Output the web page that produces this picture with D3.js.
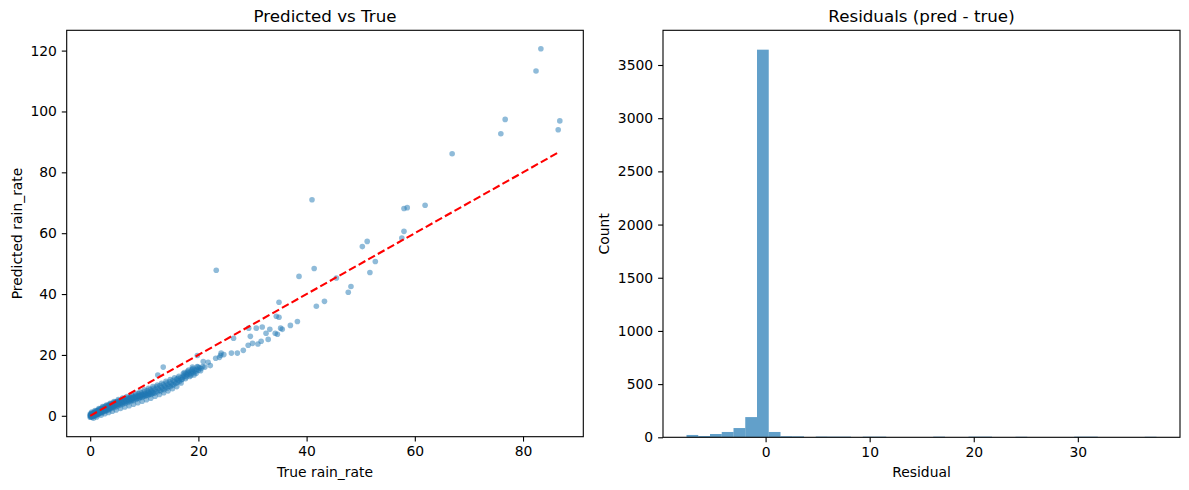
<!DOCTYPE html>
<html>
<head>
<meta charset="utf-8">
<script src="https://cdn.jsdelivr.net/npm/d3@7"></script>
<style>
  body { margin: 0; background: #fff; }
  svg { font-family: "DejaVu Sans", sans-serif; }
</style>
</head>
<body>
<svg id="chart" width="1189" height="490"></svg>
<script>
// scatter values: [true, predicted]
const bandPoints = [
  [0.0,0.0],[0.0,0.6],[0.0,-0.5],[0.1,0.3],[0.15,-0.2],[0.2,0.8],[0.3,0.1],[0.35,-0.4],[0.4,0.6],[0.5,0.2],
  [0.55,1.0],[0.6,-0.1],[0.7,0.7],[0.8,0.3],[0.85,1.3],[0.9,0.0],[1.0,0.9],[1.1,0.5],[1.15,1.6],[1.2,0.2],
  [1.3,1.1],[1.4,0.7],[1.45,1.9],[1.5,0.5],[1.6,1.4],[1.7,1.0],[1.75,2.2],[1.8,0.8],[1.9,1.7],[2.0,1.2],
  [2.05,2.5],[2.15,1.0],[2.25,2.0],[2.35,1.5],[2.4,2.8],[2.5,1.3],[2.6,2.3],[2.7,1.8],[2.75,3.1],[2.85,1.6],
  [2.95,2.6],[3.05,2.1],[3.1,3.4],[3.2,1.8],[3.3,2.9],[3.4,2.4],[3.45,3.6],[3.55,2.1],[3.65,3.1],[3.75,2.7],
  [3.8,3.9],[3.9,2.4],[4.0,3.4],[4.1,3.0],[4.2,4.2],[4.3,2.7],[4.4,3.7],[4.5,3.2],[4.6,4.5],[4.7,2.9],
  [4.8,3.9],[4.9,3.5],[5.0,4.8],[5.1,3.2],[5.2,4.2],[5.35,3.8],[5.45,5.0],[5.55,3.5],[5.7,4.5],[5.8,4.1],
  [5.9,5.3],[6.0,3.8],[6.15,4.8],[6.3,4.4],[6.4,5.6],[6.5,4.1],[6.65,5.1],[6.8,4.7],[6.9,5.9],[7.0,4.4],
  [7.15,5.4],[7.3,5.0],[7.4,6.1],[7.5,4.8],[7.65,5.8],[7.8,5.3],[7.9,6.4],[8.0,5.0],[8.15,6.1],[8.3,5.6],
  [8.4,6.8],[8.55,5.4],[8.7,6.4],[8.85,5.9],[8.95,7.2],[9.05,5.7],[9.2,6.7],[9.35,6.2],[9.45,7.5],[9.6,6.0],
  [9.75,7.0],[9.9,6.6],[10.0,7.9],[10.15,6.4],[10.3,7.4],[10.45,6.9],[10.55,8.3],[10.7,6.7],[10.85,7.8],[11.0,7.3],
  [11.1,8.6],[11.25,7.0],[11.4,8.2],[11.55,7.6],[11.7,9.0],[11.85,7.4],[12.0,8.6],[12.15,8.0],[12.3,9.5],[12.45,7.8],
  [12.6,9.0],[12.75,8.4],[12.9,9.9],[13.05,8.2],[13.2,9.4],[13.35,8.8],[13.5,10.3],[13.65,8.6],[13.8,9.8],[13.95,9.3],
  [14.1,10.8],[14.25,9.1],[14.4,10.3],[14.55,9.7],[14.7,11.2],[14.85,9.6],[15.0,10.7],[15.15,10.1],[15.3,11.7],[15.45,10.2],
  [15.6,11.2],[15.8,10.7],[15.95,12.0],[16.1,10.9],[16.3,11.6],[16.5,11.3],[16.7,12.5],[16.9,11.9],[17.1,12.7],[17.3,13.3],
  [17.5,13.0],[17.7,13.9],[17.9,13.5],[18.1,14.2],[18.3,13.7],[18.5,14.4],[18.7,13.9],[18.9,14.6],[19.1,14.2],[19.3,15.0],
  [19.5,14.6],[19.7,15.3],[20.0,15.0],[20.2,15.8],[20.5,15.5],[20.8,16.2],[21.2,16.0]
];

// outer edges of the dense band (upper and lower rims)
const bandEdgePoints = [
  [0.3,1.2],[0.6,-0.8],[0.9,1.7],[1.2,-0.4],[1.6,2.4],[2.0,0.2],[2.3,3.0],[2.7,0.7],[3.0,3.5],[3.4,1.1],
  [3.7,4.1],[4.1,1.5],[4.4,4.7],[4.8,1.9],[5.2,5.3],[5.6,2.4],[6.0,5.8],[6.4,2.9],[6.8,6.3],[7.2,3.3],
  [7.6,6.8],[8.0,3.8],[8.4,7.4],[8.8,4.3],[9.2,7.9],[9.6,4.8],[10.0,8.5],[10.4,5.3],[10.8,9.0],[11.2,5.8],
  [11.6,9.6],[12.0,6.4],[12.4,10.1],[12.8,7.0],[13.2,10.7],[13.6,7.6],[14.0,11.3],[14.4,8.2],[14.8,11.9],[15.2,8.9],
  [15.6,12.5],[16.0,9.6],[16.4,13.0],[16.8,10.8],[17.2,13.8],[17.6,12.2],[18.0,14.6],[18.4,12.9],[18.8,15.2],[19.2,13.4],
  [16.2,12.3],[17.0,12.0],[17.4,14.2],[17.8,12.8],[18.2,15.0],[18.6,13.2],[19.0,15.5],[19.6,14.0],[19.9,16.0],[20.4,14.8]
];

// the darkest part of the band, close to the origin
const bandCorePoints = [
  [0.05,0.2],[0.1,-0.3],[0.2,0.4],[0.25,0.0],[0.4,0.3],[0.45,-0.2],[0.6,0.5],[0.65,0.1],[0.75,0.9],[0.95,0.4],
  [1.05,1.2],[1.25,0.7],[1.35,1.5],[1.55,0.9],[1.65,1.8],[1.85,1.2],[1.95,2.0],[2.2,1.4],[2.3,2.3],[2.55,1.7],
  [2.65,2.6],[2.9,2.0],[3.0,2.9],[3.25,2.3],[3.35,3.2],[3.6,2.6],[3.7,3.5],[3.95,2.9],[4.05,3.8],[4.3,3.2],
  [4.45,4.1],[4.65,3.5],[4.85,4.4],[5.05,3.8],[5.25,4.6],[5.5,4.1],[5.65,4.9],[5.9,4.4],[6.1,5.1],[6.35,4.6],
  [6.55,5.4],[6.75,4.9],[7.0,5.6],[7.25,5.1],[7.45,5.9],[7.7,5.4],[7.95,6.1],[8.2,5.7],[8.45,6.4],[8.7,6.0],
  [8.95,6.6],[9.25,6.3],[9.5,6.9],[9.8,6.5],[10.1,7.1],[10.4,6.8],[10.7,7.4],[11.0,7.1],[11.3,7.8],[11.6,7.5]
];

const sparsePoints = [
  [12.5,13.4],[13.5,16.0],[18.9,16.0],[19.8,16.2],[19.8,19.8],[20.9,17.8],[21.8,17.6],[22.2,16.5],[23.2,18.9],[23.9,19.2],
  [24.1,19.9],[24.7,20.1],[24.2,20.6],[26.1,20.6],[27.2,20.6],[28.3,21.5],[29.2,23.2],[30.0,23.8],[31.0,23.6],[31.6,24.5],
  [32.9,25.1],[26.5,25.5],[29.6,26.1],[32.5,27.1],[34.2,27.1],[34.6,26.8],[29.3,28.8],[30.7,28.8],[31.8,29.2],[33.2,28.4],
  [35.2,28.8],[35.5,28.4],[37.0,29.7],[38.3,31.0],[34.4,32.7],[34.9,32.4],[34.9,37.3],[41.8,36.0],[43.3,37.6],[47.7,40.6],
  [48.2,42.5],[45.5,45.3],[38.6,45.8],[41.4,48.4],[23.3,47.8],[41.0,71.0],[50.3,55.6],[51.2,57.3],[52.7,50.7],[51.7,47.1],
  [58.0,60.6],[57.6,58.4],[58.0,68.1],[58.6,68.4],[61.9,69.2],[66.9,86.1],[75.9,92.7],[76.7,97.4],[82.4,113.3],[83.3,120.6],
  [86.5,94.0],[86.8,96.9]
];

// residual histogram: 40 equal bins between these edges
const residualRange = [-7.6, 37.56];
const residualCounts = [
  22, 12, 31, 50, 87, 190, 3644, 50, 10, 9,
  0, 7, 6, 6, 0, 6, 6, 0, 0, 0,
  0, 6, 0, 0, 6, 6, 0, 0, 5, 0,
  0, 0, 0, 6, 6, 0, 0, 0, 0, 5
];

const scatterXTicks = [0, 20, 40, 60, 80];
const scatterYTicks = [0, 20, 40, 60, 80, 100, 120];
const histXTicks = [0, 10, 20, 30];
const histYTicks = [0, 500, 1000, 1500, 2000, 2500, 3000, 3500];

const svg = d3.select('#chart');
const tickFont = 13.9;
const blue = '#1f77b4';

function pad(ext) {
  const r = ext[1] - ext[0];
  return [ext[0] - 0.05 * r, ext[1] + 0.05 * r];
}

function drawFrame(g, x, y, box, opts) {
  const xAxis = d3.axisBottom(x).tickValues(opts.xTicks).tickFormat(d3.format('d'))
      .tickSize(4.9).tickPadding(4.9).tickSizeOuter(0);
  const yAxis = d3.axisLeft(y).tickValues(opts.yTicks).tickFormat(d3.format('d'))
      .tickSize(4.9).tickPadding(4.9).tickSizeOuter(0);

  g.append('g')
      .attr('transform', `translate(0,${box.bottom})`)
      .call(xAxis)
      .call(a => a.select('.domain').remove())
      .call(a => a.selectAll('line').attr('stroke', '#000').attr('stroke-width', 1.1))
      .call(a => a.selectAll('text').attr('font-size', tickFont).attr('fill', '#000').attr('font-family', 'DejaVu Sans'));

  g.append('g')
      .attr('transform', `translate(${box.left},0)`)
      .call(yAxis)
      .call(a => a.select('.domain').remove())
      .call(a => a.selectAll('line').attr('stroke', '#000').attr('stroke-width', 1.1))
      .call(a => a.selectAll('text').attr('font-size', tickFont).attr('fill', '#000').attr('font-family', 'DejaVu Sans'));

  g.append('rect')
      .attr('x', box.left)
      .attr('y', box.top)
      .attr('width', box.right - box.left)
      .attr('height', box.bottom - box.top)
      .attr('fill', 'none')
      .attr('stroke', '#000')
      .attr('stroke-width', 1.1);

  const cx = (box.left + box.right) / 2;

  g.append('text')
      .attr('x', cx)
      .attr('y', box.top - 8.3)
      .attr('text-anchor', 'middle')
      .attr('font-size', 16.7)
      .text(opts.title);

  g.append('text')
      .attr('x', cx)
      .attr('y', box.bottom + 40)
      .attr('text-anchor', 'middle')
      .attr('font-size', tickFont)
      .text(opts.xLabel);

  g.append('text')
      .attr('transform', `translate(${opts.yLabelX},${(box.top + box.bottom) / 2}) rotate(-90)`)
      .attr('text-anchor', 'middle')
      .attr('font-size', tickFont)
      .text(opts.yLabel);
}

// left panel: predicted vs true

const left = { left: 66.7, right: 583.3, top: 30.3, bottom: 436.7 };
const allPoints = bandPoints.concat(bandEdgePoints, bandCorePoints, sparsePoints);

const x1 = d3.scaleLinear()
    .domain(pad(d3.extent(allPoints, d => d[0])))
    .range([left.left, left.right]);

const y1 = d3.scaleLinear()
    .domain(pad(d3.extent(allPoints, d => d[1])))
    .range([left.bottom, left.top]);

const g1 = svg.append('g');

g1.append('g')
  .selectAll('circle')
  .data(allPoints)
  .join('circle')
    .attr('cx', d => x1(d[0]))
    .attr('cy', d => y1(d[1]))
    .attr('r', 2.8)
    .attr('fill', blue)
    .attr('fill-opacity', 0.5);

const trueExtent = d3.extent(allPoints, d => d[0]);

g1.append('line')
    .attr('x1', x1(trueExtent[0]))
    .attr('y1', y1(trueExtent[0]))
    .attr('x2', x1(trueExtent[1]))
    .attr('y2', y1(trueExtent[1]))
    .attr('stroke', 'red')
    .attr('stroke-width', 2.1)
    .attr('stroke-dasharray', '7.7,3.3');

drawFrame(g1, x1, y1, left, {
  xTicks: scatterXTicks,
  yTicks: scatterYTicks,
  title: 'Predicted vs True',
  xLabel: 'True rain_rate',
  yLabel: 'Predicted rain_rate',
  yLabelX: 22
});

// right panel: residual histogram

const right = { left: 663, right: 1180, top: 30.3, bottom: 437.3 };
const binWidth = (residualRange[1] - residualRange[0]) / residualCounts.length;
const bins = residualCounts.map((c, i) => ({
  x0: residualRange[0] + i * binWidth,
  x1: residualRange[0] + (i + 1) * binWidth,
  count: c
}));

const x2 = d3.scaleLinear()
    .domain(pad(residualRange))
    .range([right.left, right.right]);

const y2 = d3.scaleLinear()
    .domain([0, d3.max(residualCounts) * 1.05])
    .range([right.bottom, right.top]);

const g2 = svg.append('g');

g2.append('g')
  .selectAll('rect')
  .data(bins.filter(b => b.count > 0))
  .join('rect')
    .attr('x', d => x2(d.x0))
    .attr('width', d => x2(d.x1) - x2(d.x0))
    .attr('y', d => y2(d.count))
    .attr('height', d => y2(0) - y2(d.count))
    .attr('fill', blue)
    .attr('fill-opacity', 0.7);

drawFrame(g2, x2, y2, right, {
  xTicks: histXTicks,
  yTicks: histYTicks,
  title: 'Residuals (pred - true)',
  xLabel: 'Residual',
  yLabel: 'Count',
  yLabelX: 609
});
</script>
</body>
</html>
